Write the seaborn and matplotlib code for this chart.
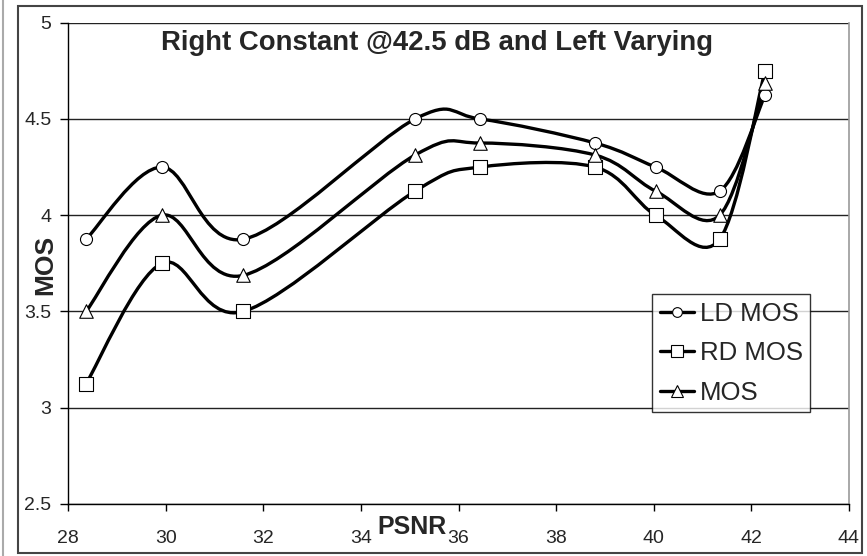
import numpy as np
import matplotlib
matplotlib.use('Agg')
import matplotlib.pyplot as plt
from matplotlib.path import Path
from matplotlib.patches import PathPatch, Rectangle
from matplotlib.lines import Line2D
import seaborn as sns

psnr = [28.37, 29.92, 31.59, 35.11, 36.44, 38.80, 40.04, 41.35, 42.28]
ld_mos = [3.875, 4.25, 3.875, 4.5, 4.5, 4.375, 4.25, 4.125, 4.625]
rd_mos = [3.125, 3.75, 3.5, 4.125, 4.25, 4.25, 4.0, 3.875, 4.75]
mos = [3.5, 4.0, 3.6875, 4.3125, 4.375, 4.3125, 4.125, 4.0, 4.6875]

series = [('LD MOS', ld_mos, 'o', 75), ('RD MOS', rd_mos, 's', 110), ('MOS', mos, '^', 95)]

sns.set_style('white')
plt.rcParams['font.family'] = ['Liberation Sans', 'DejaVu Sans']


def smooth_path(x, y):
    # excel-like smoothed line: catmull-rom turned into cubic bezier pieces
    p = np.column_stack([x, y])
    ext = np.vstack([p[0], p, p[-1]])
    verts = [p[0]]
    codes = [Path.MOVETO]
    for i in range(len(p) - 1):
        p0, p1, p2, p3 = ext[i], ext[i + 1], ext[i + 2], ext[i + 3]
        c1 = p1 + (p2 - p0) / 6
        c2 = p2 - (p3 - p1) / 6
        verts += [c1, c2, p2]
        codes += [Path.CURVE4] * 3
    return Path(verts, codes)


fig = plt.figure(figsize=(8.67, 5.56), dpi=100)
ax = fig.add_axes([68 / 867, 52 / 556, 781 / 867, 481.3 / 556])

handles = []
for name, vals, mk, sz in series:
    ax.add_patch(PathPatch(smooth_path(psnr, vals), facecolor='none', edgecolor='black',
                           lw=2.4, zorder=3, capstyle='round'))
    sns.scatterplot(x=psnr, y=vals, marker=mk, s=sz, color='white', edgecolor='black',
                    linewidth=0.8, zorder=4, ax=ax)
    handles.append(Line2D([], [], color='black', lw=2.4, marker=mk, markersize=8 if mk != 'o' else 7,
                          markerfacecolor='white', markeredgecolor='black', markeredgewidth=0.8))

ax.set_xlim(28, 44)
ax.set_ylim(2.5, 5)
ax.set_xticks(np.arange(28, 45, 2))
ax.set_yticks([2.5, 3, 3.5, 4, 4.5, 5])
ax.set_yticklabels(['2.5', '3', '3.5', '4', '4.5', '5'])
ax.yaxis.grid(True, color='#222222', lw=1.0)
ax.set_axisbelow(True)
for s in ['left', 'bottom']:
    ax.spines[s].set_color('black')
    ax.spines[s].set_linewidth(1.0)
ax.spines['top'].set_visible(False)
ax.spines['right'].set_color('#999999')
ax.spines['right'].set_linewidth(1.2)
ax.tick_params(axis='x', direction='out', length=5, width=1, color='black', pad=14,
               labelsize=14, bottom=True)
ax.tick_params(axis='y', direction='out', length=6, width=1, color='black', pad=6,
               labelsize=14, left=True)
ax.set_xlabel('')
ax.set_ylabel('')

ax.text(0.473, 0.958, 'Right Constant @42.5 dB and Left Varying', transform=ax.transAxes,
        ha='center', va='center', fontsize=19.8, fontweight='bold', zorder=6)
fig.text(45 / 867, 1 - 265 / 556, 'MOS', rotation=90, ha='center', va='center',
         fontsize=19, fontweight='bold')
fig.text(412 / 867, 1 - 527 / 556, 'PSNR', ha='center', va='center',
         fontsize=18, fontweight='bold')

leg = ax.legend(handles, ['LD MOS', 'RD MOS', 'MOS'], loc='upper left',
                bbox_to_anchor=(652 / 867, 1 - 294 / 556), bbox_transform=fig.transFigure,
                fontsize=18.5, frameon=True, fancybox=False, edgecolor='black',
                handlelength=1.35, handletextpad=0.2, labelspacing=0.6,
                borderpad=0.3, borderaxespad=0)
leg.get_frame().set_linewidth(1.0)
leg.set_zorder(7)

fig.patches.append(Rectangle((18 / 867, 3 / 556), 844 / 867, 547 / 556, transform=fig.transFigure,
                             fill=False, edgecolor='#444444', lw=1.5))
fig.lines.append(Line2D([3 / 867, 3 / 867], [0, 1], transform=fig.transFigure,
                        color='#aaaaaa', lw=1.5))

fig.savefig('out.png', dpi=100)
